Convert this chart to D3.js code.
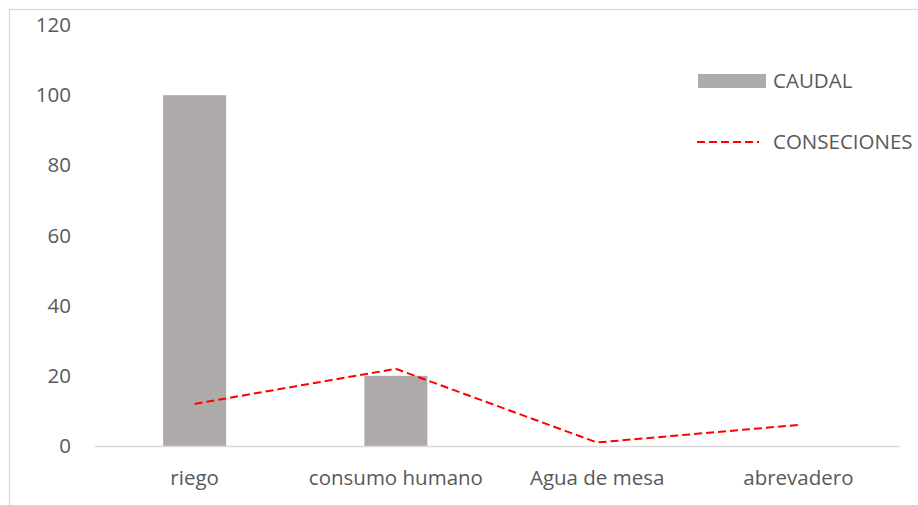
<!DOCTYPE html>
<html>
<head>
<meta charset="utf-8">
<script src="https://cdn.jsdelivr.net/npm/d3@7"></script>
<style>
  html, body { margin: 0; padding: 0; background: #fff; }
  svg text { font-family: "Open Sans", "Liberation Sans", sans-serif; fill: #595959; }
</style>
</head>
<body>
<svg id="chart" width="918" height="505"></svg>
<script>
// Uses of water: flow (bars) and concessions (dashed line)
const categories = ["riego", "consumo humano", "Agua de mesa", "abrevadero"];
const caudal = [100, 20, 0, 0];
const conseciones = [12, 22, 1, 6];
const yTicks = [0, 20, 40, 60, 80, 100, 120];
const seriesNames = ["CAUDAL", "CONSECIONES"];

const svg = d3.select("#chart");
const W = 918, H = 505;
const FS = 20.5;

// chart frame
svg.append("rect")
  .attr("x", 9.5).attr("y", 9.5)
  .attr("width", W + 10).attr("height", H + 10)
  .attr("fill", "none").attr("stroke", "#d9d9d9").attr("stroke-width", 1.3);

const plot = { left: 94, right: 899, top: 25, bottom: 446 };

const x = d3.scaleBand()
  .domain(categories)
  .range([plot.left, plot.right])
  .paddingInner(0)
  .paddingOuter(0);

const y = d3.scaleLinear()
  .domain([0, 120])
  .range([plot.bottom, plot.top]);

const barW = x.bandwidth() * 0.313;

// bars
svg.append("g").selectAll("rect")
  .data(categories.map((c, i) => ({ c, v: caudal[i] })))
  .join("rect")
  .attr("x", d => x(d.c) + x.bandwidth() / 2 - barW / 2)
  .attr("y", d => y(d.v))
  .attr("width", barW)
  .attr("height", d => y(0) - y(d.v))
  .attr("fill", "#aeaaaa");

// category axis
const xAxis = svg.append("g")
  .attr("transform", `translate(0,${plot.bottom})`)
  .call(d3.axisBottom(x).tickSize(0).tickPadding(24));
xAxis.select(".domain").attr("stroke", "#d9d9d9").attr("stroke-width", 1.5);
xAxis.selectAll("text")
  .attr("font-size", FS)
  .style("font-family", "'Open Sans', 'Liberation Sans', sans-serif")
  .attr("fill", "#595959");

// value axis (labels only)
const yAxis = svg.append("g")
  .attr("transform", `translate(${plot.left},0)`)
  .call(d3.axisLeft(y).tickValues(yTicks).tickSize(0).tickPadding(23));
yAxis.select(".domain").remove();
yAxis.selectAll("text")
  .attr("font-size", FS)
  .style("font-family", "'Open Sans', 'Liberation Sans', sans-serif")
  .attr("fill", "#595959");

// concessions line
const line = d3.line()
  .x((d, i) => x(categories[i]) + x.bandwidth() / 2)
  .y(d => y(d));
svg.append("path")
  .datum(conseciones)
  .attr("d", line)
  .attr("fill", "none")
  .attr("stroke", "#ff0000")
  .attr("stroke-width", 2)
  .attr("stroke-dasharray", "8,4");

// legend
const lg = svg.append("g");
lg.append("rect")
  .attr("x", 698).attr("y", 74).attr("width", 68).attr("height", 14)
  .attr("fill", "#aeaaaa");
lg.append("text")
  .attr("x", 773).attr("y", 81).attr("dy", "0.35em")
  .attr("font-size", FS).text(seriesNames[0]);
lg.append("line")
  .attr("x1", 697).attr("x2", 759).attr("y1", 142).attr("y2", 142)
  .attr("stroke", "#ff0000").attr("stroke-width", 2)
  .attr("stroke-dasharray", "8,4");
lg.append("text")
  .attr("x", 773).attr("y", 142).attr("dy", "0.35em")
  .attr("font-size", FS).text(seriesNames[1]);
</script>
</body>
</html>
